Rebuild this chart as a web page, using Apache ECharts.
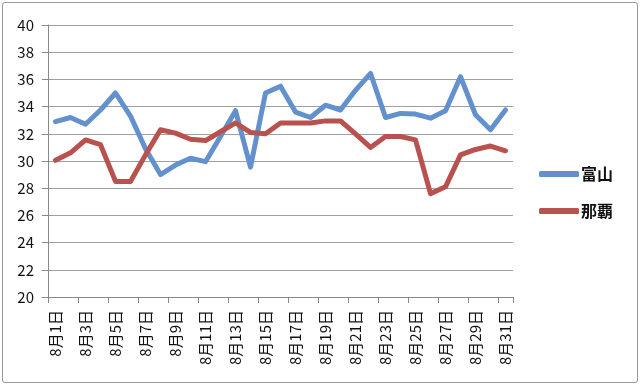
<!DOCTYPE html>
<html><head><meta charset="utf-8">
<script src="https://cdn.jsdelivr.net/npm/echarts@6/dist/echarts.min.js"></script>
<style>
html,body{margin:0;padding:0;background:#fff;}
#frame{position:absolute;left:2px;top:2px;width:634px;height:379px;border:1px solid #9a9a9a;border-radius:3px;}
#c{position:absolute;left:0;top:0;width:640px;height:385px;}
</style></head>
<body><div id="frame"></div><div id="c"></div>
<script>
const categories = [];
for (let d = 1; d <= 31; d++) categories.push('8月' + d + '日');
const seriesNames = ['富山', '那覇'];
const toyama = [32.9,33.2,32.7,33.75,35.0,33.3,30.9,29.0,29.7,30.2,29.95,31.8,33.7,29.55,35.0,35.5,33.6,33.2,34.1,33.75,35.2,36.45,33.2,33.5,33.45,33.15,33.7,36.2,33.4,32.3,33.75];
const naha = [30.05,30.6,31.55,31.2,28.5,28.5,30.45,32.3,32.05,31.6,31.5,32.15,32.8,32.1,32.0,32.8,32.8,32.8,32.95,32.95,32.0,31.0,31.8,31.8,31.55,27.6,28.1,30.45,30.85,31.1,30.75];
const yTicks = {min: 20, max: 40, interval: 2};

const chart = echarts.init(document.getElementById('c'));
chart.setOption({
  animation: false,
  backgroundColor: 'transparent',
  textStyle: {fontFamily: '"Noto Sans CJK JP", "Noto Sans", sans-serif'},
  grid: {left: 48, right: 127, top: 25, bottom: 88, containLabel: false},
  legend: {
    orient: 'vertical', left: 534, top: 161,
    itemWidth: 40, itemHeight: 6, itemGap: 21,
    icon: 'roundRect',
    textStyle: {fontSize: 16, fontWeight: 'bold', color: '#111', padding: [0,0,0,-3]},
    data: seriesNames
  },
  xAxis: {
    type: 'category', data: categories, boundaryGap: true,
    axisLine: {lineStyle: {color: '#888', width: 1}},
    axisTick: {show: true, interval: 1, length: 6, lineStyle: {color: '#888'}},
    axisLabel: {interval: 1, rotate: 90, fontSize: 15, color: '#111', margin: 13}
  },
  yAxis: {
    type: 'value', min: yTicks.min, max: yTicks.max, interval: yTicks.interval,
    axisLine: {show: true, lineStyle: {color: '#888', width: 1}},
    axisTick: {show: true, length: 6, lineStyle: {color: '#888'}},
    axisLabel: {fontSize: 15, color: '#111', margin: 14},
    splitLine: {show: true, lineStyle: {color: '#a0a0a0', width: 1}}
  },
  series: [
    {name: seriesNames[0], type: 'line', data: toyama, symbol: 'none', color: '#6391CD',
     lineStyle: {width: 5, color: '#6391CD', cap: 'round', join: 'round'}},
    {name: seriesNames[1], type: 'line', data: naha, symbol: 'none', color: '#B9524F',
     lineStyle: {width: 5, color: '#B9524F', cap: 'round', join: 'round'}}
  ]
});
</script></body></html>
